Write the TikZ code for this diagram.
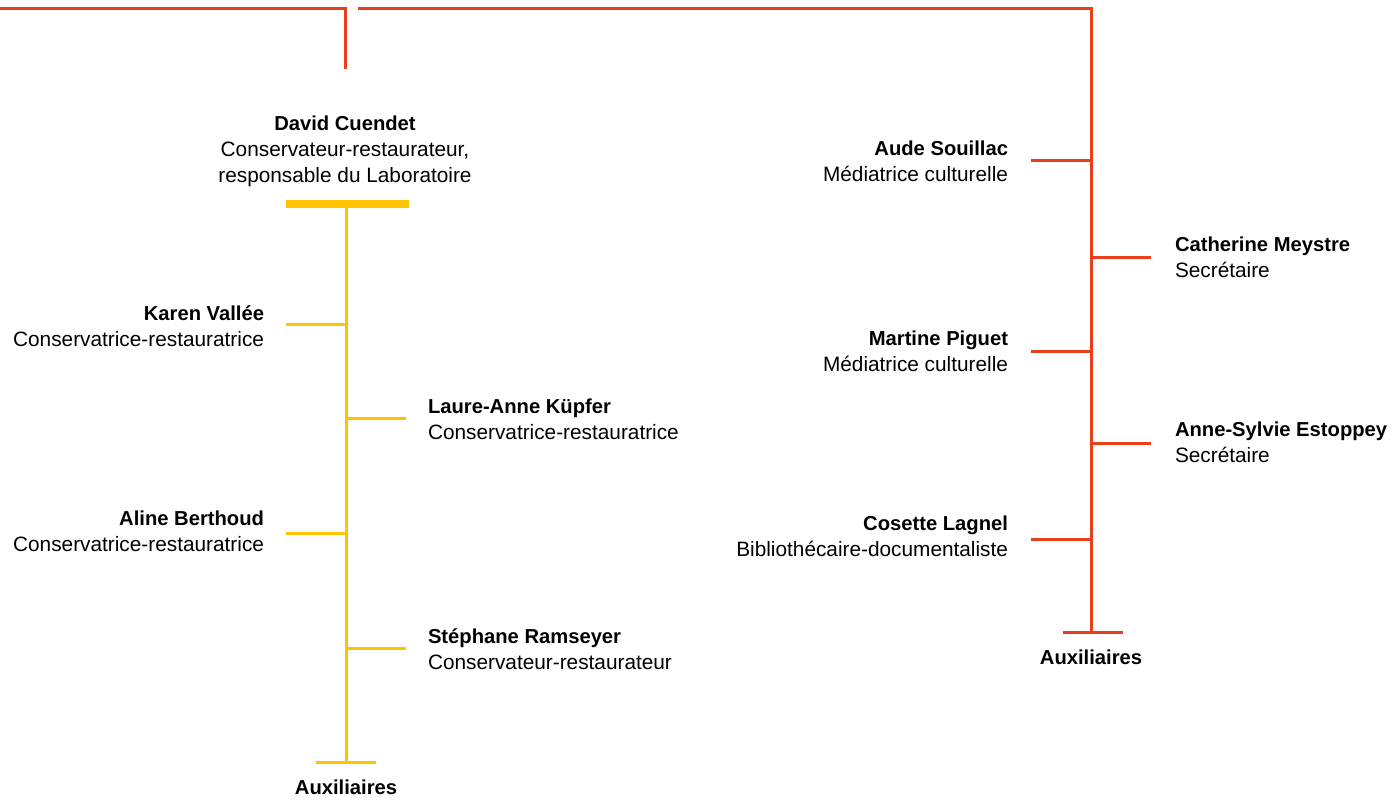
\documentclass[tikz,border=0pt]{standalone}
\usepackage{fontspec}
\setmainfont{Liberation Sans}
\definecolor{rd}{HTML}{E8401C}
\definecolor{yl}{HTML}{FFC300}
\newcommand\nmfont{\fontsize{20.2}{26}\selectfont\bfseries}
\newcommand\perR[2]{\begin{tabular}[t]{@{}r@{}}{\nmfont #1}\\#2\end{tabular}}
\newcommand\perL[2]{\begin{tabular}[t]{@{}l@{}}{\nmfont #1}\\#2\end{tabular}}
\begin{document}
\begin{tikzpicture}[x=1pt,y=-1pt,
  rl/.style={draw=rd,line width=3pt},
  yll/.style={draw=yl,line width=3pt},
  pl/.style={inner sep=0pt,outer sep=0pt,font=\fontsize{20.8}{26}\selectfont},
  aux/.style={inner sep=0pt,font=\nmfont,anchor=base}]
\useasboundingbox (0,0) rectangle (1399,803);
% ---- red frame ----
\coordinate (r0) at (0,8);
\coordinate (r1) at (345,8);
\coordinate (r2) at (345,69);
\coordinate (r3) at (358,8);
\coordinate (rc) at (1091,8);
\coordinate (rb) at (1091,632);
\draw[rl] (r0) -- (r1) -- (r2);
\draw[rl] (r3) -- (rc) -- (rb);
% red branches
\coordinate (ta) at (1091,160); \coordinate (ea) at (1031,160);
\coordinate (tc) at (1091,257); \coordinate (ec) at (1151,257);
\coordinate (tm) at (1091,351); \coordinate (em) at (1031,351);
\coordinate (ts) at (1091,443); \coordinate (es) at (1151,443);
\coordinate (tl) at (1091,539); \coordinate (el) at (1031,539);
\coordinate (rbl) at (1063,632); \coordinate (rbr) at (1123,632);
\draw[rl] (ta) -- (ea);
\draw[rl] (tc) -- (ec);
\draw[rl] (tm) -- (em);
\draw[rl] (ts) -- (es);
\draw[rl] (tl) -- (el);
\draw[rl] (rbl) -- (rbr);
\node[pl,anchor=base east] (aude) at (1008,155) {\perR{Aude Souillac}{Médiatrice culturelle}};
\node[pl,anchor=base west] (cath) at (1175,251) {\perL{Catherine Meystre}{Secrétaire}};
\node[pl,anchor=base east] (mart) at (1008,345) {\perR{Martine Piguet}{Médiatrice culturelle}};
\node[pl,anchor=base west] (anne) at (1175,436) {\perL{Anne-Sylvie Estoppey}{Secrétaire}};
\node[pl,anchor=base east] (cos) at (1008,530) {\perR{Cosette Lagnel}{Bibliothécaire-documentaliste}};
\node[aux] (auxr) at (1091,664) {Auxiliaires};
% ---- yellow ----
\node[pl,anchor=base] (david) at (345,130) {\begin{tabular}[t]{@{}c@{}}{\nmfont David Cuendet}\\Conservateur-restaurateur,\\responsable du Laboratoire\end{tabular}};
\coordinate (yb1) at (286,204); \coordinate (yb2) at (409,204);
\draw[draw=yl,line width=7.5pt] (yb1) -- (yb2);
\coordinate (yt) at (346,204); \coordinate (ybot) at (346,762);
\draw[yll] (yt) -- (ybot);
\coordinate (tk) at (346,324); \coordinate (ek) at (286,324);
\coordinate (tla) at (346,418); \coordinate (ela) at (406,418);
\coordinate (tal) at (346,533); \coordinate (eal) at (286,533);
\coordinate (tst) at (346,648); \coordinate (est) at (406,648);
\coordinate (ybl) at (316,762); \coordinate (ybr) at (376,762);
\draw[yll] (tk) -- (ek);
\draw[yll] (tla) -- (ela);
\draw[yll] (tal) -- (eal);
\draw[yll] (tst) -- (est);
\draw[yll] (ybl) -- (ybr);
\node[pl,anchor=base east] (karen) at (264,320) {\perR{Karen Vallée}{Conservatrice-restauratrice}};
\node[pl,anchor=base west] (laure) at (428,413) {\perL{Laure-Anne Küpfer}{Conservatrice-restauratrice}};
\node[pl,anchor=base east] (aline) at (264,525) {\perR{Aline Berthoud}{Conservatrice-restauratrice}};
\node[pl,anchor=base west] (steph) at (428,643) {\perL{Stéphane Ramseyer}{Conservateur-restaurateur}};
\node[aux] (auxy) at (346,794) {Auxiliaires};
\end{tikzpicture}
\end{document}
